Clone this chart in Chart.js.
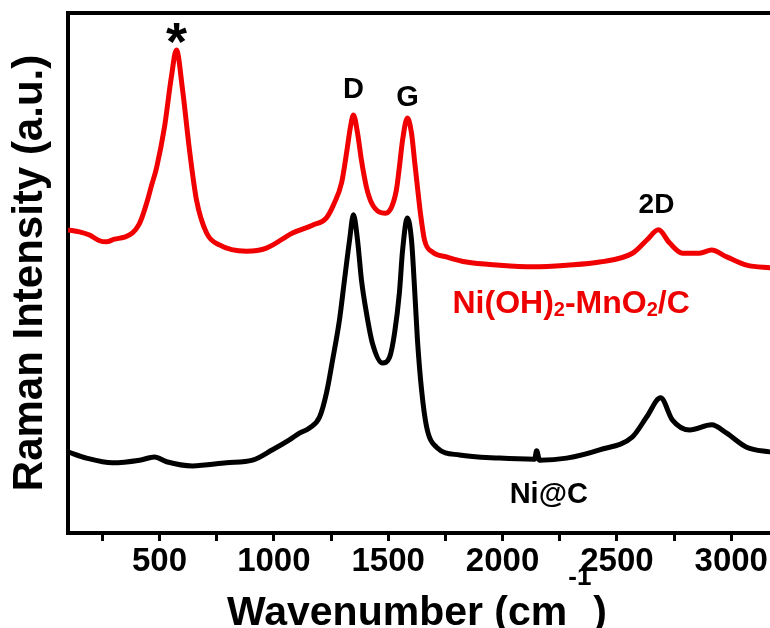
<!DOCTYPE html>
<html>
<head>
<meta charset="utf-8">
<script src="https://cdn.jsdelivr.net/npm/chart.js@4.4.1/dist/chart.umd.min.js"></script>
<style>
  html, body { margin: 0; padding: 0; background: #fff; overflow: hidden; }
  #wrap { width: 770px; height: 628px; overflow: hidden; }
</style>
</head>
<body>
<div id="wrap"><canvas id="myChart" width="800" height="628"></canvas></div>
<script>
// Ni(OH)2-MnO2/C spectrum (red)
var redWave = [100, 150, 194, 238, 268, 303, 347, 382, 410, 426, 445, 465, 487, 522, 552, 574, 601, 631, 662, 706, 762, 880, 968,
  1082, 1169, 1230, 1265, 1296, 1318, 1335, 1348, 1366, 1383, 1405, 1427, 1462, 1488, 1515, 1536, 1549, 1563, 1584,
  1602, 1615, 1628, 1641, 1659, 1694, 1755, 1842, 1987, 2131, 2280, 2424, 2568, 2630, 2682, 2730, 2787, 2861, 2914,
  2980, 3067, 3168, 3200];
var redInt = [58.3, 57.9, 57.3, 56.2, 56.0, 56.5, 56.9, 57.7, 59.3, 61.0, 63.6, 66.8, 70.2, 78.1, 87.7, 92.9, 85.2, 73.7, 64.0, 57.7, 55.4, 54.2, 54.8,
  57.7, 59.2, 60.6, 63.5, 67.3, 73.1, 78.1, 80.4, 76.9, 71.7, 66.5, 63.5, 61.7, 61.5, 62.7, 66.0, 70.4, 75.6, 79.8,
  76.9, 71.7, 66.5, 61.5, 56.3, 54.0, 53.1, 52.1, 51.5, 51.2, 51.5, 52.1, 53.8, 56.3, 58.3, 55.8, 53.8, 53.8, 54.4,
  53.1, 51.5, 51.0, 50.9];

// Ni@C spectrum (black)
var blackWave = [100, 181, 294, 413, 478, 531, 644, 793, 907, 994, 1068, 1112, 1156, 1200, 1230, 1257, 1287, 1309, 1331,
  1348, 1366, 1383, 1405, 1431, 1475, 1506, 1528, 1549, 1563, 1584, 1602, 1615, 1628, 1646, 1668, 1711, 1812, 1987,
  2140, 2149, 2162, 2280, 2424, 2568, 2630, 2691, 2743, 2818, 2914, 2980, 3067, 3168, 3200];
var blackInt = [15.6, 14.4, 13.5, 14.0, 14.6, 13.7, 12.9, 13.5, 14.0, 16.0, 17.9, 19.2, 20.2, 22.3, 26.9, 33.3, 41.0, 48.7, 56.3,
  61.2, 56.3, 48.7, 42.3, 36.5, 32.7, 33.8, 38.5, 46.2, 54.4, 60.6, 56.3, 47.3, 37.1, 27.5, 20.4, 16.5, 15.0, 14.4,
  14.2, 15.8, 14.0, 14.4, 16.0, 18.5, 22.3, 26.0, 21.7, 19.8, 20.8, 19.2, 16.5, 15.6, 15.4];

// x axis tick marks (labels only on multiples of 500)
var xTicks = [250, 500, 750, 1000, 1250, 1500, 1750, 2000, 2250, 2500, 2750, 3000];
var xLabels = [500, 1000, 1500, 2000, 2500, 3000];

function toPoints(xs, ys) {
  return xs.map(function (x, i) { return { x: x, y: ys[i] }; });
}

var FONT = '"Liberation Sans", Arial, Helvetica, sans-serif';

// draws text pieces (normal / sub) centred on the cap-height middle
function drawRich(ctx, parts, cx, cy, size, color) {
  var w = 0;
  parts.forEach(function (p) {
    ctx.font = 'bold ' + (p[1] === 'n' ? size : Math.round(size * 0.62)) + 'px ' + FONT;
    w += ctx.measureText(p[0]).width;
  });
  var x = cx - w / 2;
  var base = cy + 0.716 * size / 2;
  ctx.fillStyle = color;
  ctx.textAlign = 'left';
  ctx.textBaseline = 'alphabetic';
  parts.forEach(function (p) {
    var s = p[1] === 'n' ? size : Math.round(size * 0.62);
    ctx.font = 'bold ' + s + 'px ' + FONT;
    var y = p[1] === 'sub' ? base + 0.1 * size : base;
    ctx.fillText(p[0], x, y);
    x += ctx.measureText(p[0]).width;
  });
}

var textPlugin = {
  id: 'peakText',
  afterDraw: function (chart) {
    var ctx = chart.ctx;
    var sx = chart.scales.x, sy = chart.scales.y;
    function at(wn, v) { return [sx.getPixelForValue(wn), sy.getPixelForValue(v)]; }
    ctx.save();

    // asterisk, centred by its ink box
    var p = at(574, 96.0);
    ctx.font = 'bold 54px ' + FONT;
    ctx.fillStyle = '#000';
    ctx.textAlign = 'center';
    ctx.textBaseline = 'alphabetic';
    var m = ctx.measureText('*');
    ctx.fillText('*', p[0], p[1] + (m.actualBoundingBoxAscent - m.actualBoundingBoxDescent) / 2);

    p = at(1348, 85.6); drawRich(ctx, [['D', 'n']], p[0], p[1], 29, '#000');
    p = at(1584, 84.2); drawRich(ctx, [['G', 'n']], p[0], p[1], 29, '#000');
    p = at(2673, 63.5); drawRich(ctx, [['2D', 'n']], p[0], p[1], 28, '#000');
    p = at(2300, 44.5);
    drawRich(ctx, [['Ni(OH)', 'n'], ['2', 'sub'], ['-MnO', 'n'], ['2', 'sub'], ['/C', 'n']], p[0], p[1], 32, '#ee0000');
    p = at(2202, 7.7); drawRich(ctx, [['Ni@C', 'n']], p[0], p[1], 29, '#000');

    // x axis title with superscript
    ctx.font = 'bold 41px ' + FONT;
    var w1 = ctx.measureText('Wavenumber (cm').width;
    ctx.font = 'bold 26px ' + FONT;
    var w2 = ctx.measureText('-1').width;
    var x0 = 227, base = 625;
    ctx.textAlign = 'left';
    ctx.font = 'bold 41px ' + FONT;
    ctx.fillText('Wavenumber (cm', x0, base);
    ctx.font = 'bold 26px ' + FONT;
    ctx.fillText('-1', x0 + w1 + 1, base - 40);
    ctx.font = 'bold 41px ' + FONT;
    ctx.fillText(')', x0 + w1 + w2 + 3, base);
    ctx.restore();
  }
};

var config = {
  type: 'line',
  data: {
    datasets: [{
      label: 'Ni(OH)2-MnO2/C',
      data: toPoints(redWave, redInt),
      borderColor: '#f00000',
      borderWidth: 5,
      pointRadius: 0,
      cubicInterpolationMode: 'monotone',
      borderJoinStyle: 'round',
      fill: false
    }, {
      label: 'Ni@C',
      data: toPoints(blackWave, blackInt),
      borderColor: '#000',
      borderWidth: 5,
      pointRadius: 0,
      cubicInterpolationMode: 'monotone',
      borderJoinStyle: 'round',
      fill: false
    }]
  },
  options: {
    responsive: false,
    animation: false,
    devicePixelRatio: 1,
    layout: { padding: 0 },
    plugins: {
      legend: { display: false },
      tooltip: { enabled: false },
      title: { display: false }
    },
    scales: {
      x: {
        type: 'linear',
        position: 'bottom',
        min: 100,
        max: 3200,
        afterBuildTicks: function (s) { s.ticks = xTicks.map(function (v) { return { value: v }; }); },
        afterFit: function (s) { s.height = 95; },
        ticks: {
          autoSkip: false,
          maxRotation: 0,
          padding: 1,
          color: '#000',
          font: { family: '"Liberation Sans Narrow", ' + FONT, size: 33, weight: 'bold' },
          callback: function (v) { return xLabels.indexOf(v) >= 0 ? String(v) : ''; }
        },
        grid: {
          display: true,
          drawOnChartArea: false,
          drawTicks: true,
          tickLength: 8,
          tickWidth: 3,
          tickColor: '#000'
        },
        border: { display: true, width: 4, color: '#000' }
      },
      xTop: {
        type: 'linear',
        position: 'top',
        min: 100,
        max: 3200,
        afterFit: function (s) { s.height = 13; },
        ticks: { display: false },
        grid: { display: false, drawTicks: false },
        border: { display: true, width: 4, color: '#000' }
      },
      y: {
        type: 'linear',
        position: 'left',
        min: 0,
        max: 100,
        afterFit: function (s) { s.width = 68; },
        ticks: { display: false },
        grid: { display: false, drawTicks: false },
        border: { display: true, width: 4, color: '#000' },
        title: {
          display: true,
          text: 'Raman Intensity (a.u.)',
          color: '#000',
          font: { family: FONT, size: 42, weight: 'bold' },
          padding: { top: 5, bottom: 0 }
        }
      },
      yRight: {
        type: 'linear',
        position: 'right',
        min: 0,
        max: 100,
        afterFit: function (s) { s.width = 23; },
        ticks: { display: false },
        grid: { display: false, drawTicks: false },
        border: { display: true, width: 4, color: '#000' }
      }
    }
  },
  plugins: [textPlugin]
};

var myChart = new Chart(document.getElementById('myChart'), config);
</script>
</body>
</html>
